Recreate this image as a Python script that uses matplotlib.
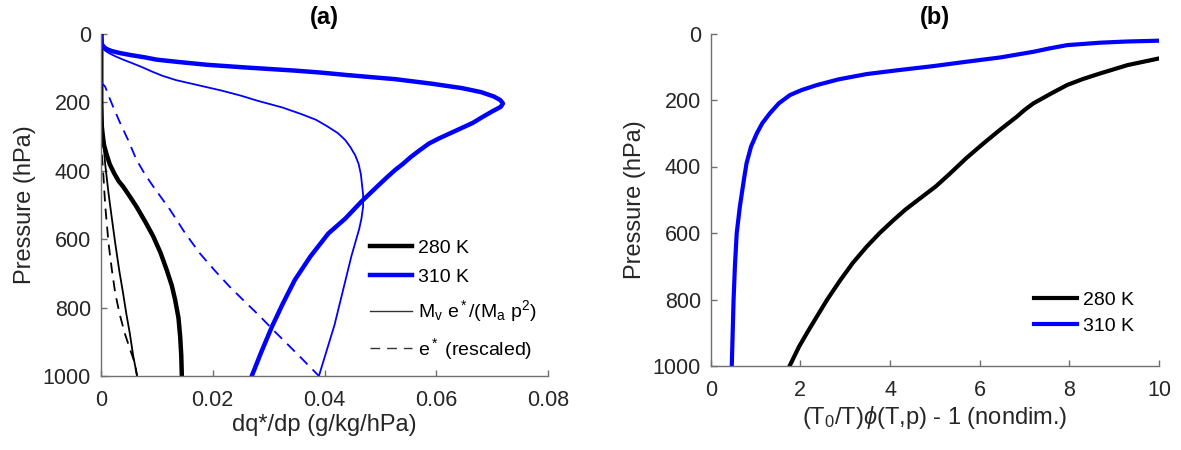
import numpy as np
import matplotlib
matplotlib.use("Agg")
import matplotlib.pyplot as plt

plt.rcParams['font.family'] = ['Liberation Sans', 'DejaVu Sans']
plt.rcParams['mathtext.fontset'] = 'custom'
plt.rcParams['mathtext.rm'] = 'Liberation Sans'
plt.rcParams['mathtext.it'] = 'Liberation Sans:italic'
plt.rcParams['mathtext.default'] = 'regular'

# ---- panel (a): dq*/dp profiles (g/kg/hPa) ----
p_280 = [0, 100, 200, 271, 300, 325, 349, 380, 407, 430, 446, 475, 505, 550, 592, 640,
         690, 735, 777, 830, 884, 940, 1000]
dq_280 = [0.0001, 0.0001, 0.0001, 0.0002, 0.0004, 0.0006, 0.001, 0.0016, 0.0024, 0.0032,
          0.004, 0.0052, 0.0064, 0.008, 0.0094, 0.0107, 0.0118, 0.0127, 0.0133, 0.0139,
          0.0142, 0.0144, 0.0145]

p_310 = [0, 30, 40, 45, 50, 56, 62, 68, 75, 82, 90, 98, 107, 113, 120, 132, 145, 158, 170,
         183, 193, 203, 213, 227, 245, 260, 275, 290, 305, 320, 340, 360, 380, 398, 420,
         440, 465, 490, 540, 583, 650, 719, 790, 856, 930, 1000]
dq_310 = [0.0001, 0.0002, 0.0007, 0.0012, 0.002, 0.0035, 0.0055, 0.0078, 0.010, 0.014,
          0.019, 0.026, 0.0347, 0.0395, 0.044, 0.0526, 0.059, 0.0645, 0.068, 0.0703,
          0.0714, 0.0719, 0.0715, 0.0699, 0.068, 0.0665, 0.0645, 0.0625, 0.0605, 0.0587,
          0.057, 0.0554, 0.054, 0.0526, 0.0511, 0.0498, 0.0482, 0.0466, 0.0437, 0.0407,
          0.0375, 0.0347, 0.0325, 0.0306, 0.0287, 0.027]

p_mv_280 = [0, 150, 250, 320, 380, 466, 540, 612, 690, 758, 820, 875, 940, 1000]
mv_280 = [0.0001, 0.0001, 0.0002, 0.0005, 0.0008, 0.0014, 0.002, 0.0026, 0.0033, 0.004,
          0.0046, 0.0052, 0.0058, 0.0065]

p_mv_310 = [0, 38, 44, 50, 57, 65, 75, 85, 97, 110, 122, 135, 150, 165, 180, 195, 215,
            235, 251, 270, 290, 310, 330, 355, 380, 410, 440, 470, 505, 540, 570, 610,
            650, 750, 850, 925, 1000]
mv_310 = [0.0001, 0.0002, 0.0005, 0.0009, 0.0016, 0.0026, 0.004, 0.0056, 0.0074, 0.0092,
          0.011, 0.0135, 0.0175, 0.0215, 0.025, 0.028, 0.0325, 0.036, 0.0385, 0.0405,
          0.0424, 0.0437, 0.0446, 0.0455, 0.0461, 0.0465, 0.0467, 0.0469, 0.0469, 0.0466,
          0.0462, 0.0455, 0.0448, 0.0433, 0.0418, 0.0404, 0.039]

p_es_280 = [300, 350, 418, 500, 612, 690, 758, 820, 875, 920, 962, 1000]
es_280 = [0.0, 0.0002, 0.0005, 0.0008, 0.0014, 0.002, 0.0026, 0.0034, 0.0043, 0.0052,
          0.0061, 0.0065]

p_es_310 = [140, 154, 180, 220, 261, 310, 368, 410, 446, 480, 514, 580, 641, 690, 738,
            780, 826, 865, 904, 950, 1000]
es_310 = [0.0, 0.0008, 0.0014, 0.0024, 0.0035, 0.0049, 0.0064, 0.0079, 0.0094, 0.0109,
          0.0124, 0.015, 0.0177, 0.0203, 0.023, 0.0256, 0.0285, 0.0308, 0.0332, 0.036,
          0.039]

# ---- panel (b): (T0/T) phi(T,p) - 1 ----
p_b_280 = [75, 95, 120, 137, 155, 180, 210, 230, 250, 290, 330, 375, 421, 460, 501, 530,
           561, 600, 641, 690, 742, 800, 862, 900, 942, 1000]
phi_280 = [10, 9.3, 8.69, 8.3, 7.95, 7.6, 7.2, 7.0, 6.83, 6.45, 6.09, 5.7, 5.34, 5.02,
           4.62, 4.34, 4.08, 3.77, 3.48, 3.17, 2.89, 2.6, 2.32, 2.15, 1.97, 1.76]

p_b_310 = [21.6, 24, 27.6, 35, 45, 55, 63, 72, 85, 98, 110, 122, 138, 155, 170, 185, 210,
           240, 270, 300, 340, 390, 440, 521, 601, 700, 802, 1000]
phi_310 = [10, 9.3, 8.69, 7.95, 7.55, 7.2, 6.85, 6.46, 5.7, 4.97, 4.2, 3.48, 2.85, 2.37,
           2.03, 1.77, 1.52, 1.32, 1.15, 1.03, 0.9, 0.8, 0.74, 0.65, 0.58, 0.54, 0.51,
           0.47]

p_ticks = [0, 200, 400, 600, 800, 1000]
xticks_a = [0, 0.02, 0.04, 0.06, 0.08]
xlabels_a = ['0', '0.02', '0.04', '0.06', '0.08']
xticks_b = [0, 2, 4, 6, 8, 10]

W, H = 1181, 450
fig = plt.figure(figsize=(W / 100, H / 100), dpi=100)
ax1 = fig.add_axes([100.7 / W, 1 - 376 / H, 447.6 / W, 342 / H])
ax2 = fig.add_axes([710.7 / W, 1 - 366 / H, 448.3 / W, 332.5 / H])

blue = (0, 0, 1)
thick, thin = 3.2, 1.3
ax1.plot(dq_280, p_280, color='k', lw=thick, label='280 K')
ax1.plot(dq_310, p_310, color=blue, lw=thick, label='310 K')
ax1.plot(mv_280, p_mv_280, color='k', lw=thin)
ax1.plot(mv_310, p_mv_310, color=blue, lw=thin)
ax1.plot(es_280, p_es_280, color='k', lw=thin, ls=(0, (6, 4)))
ax1.plot(es_310, p_es_310, color=blue, lw=thin, ls=(0, (6, 4)))
# legend-only handles for the thin styles
ax1.plot([], [], color='#333333', lw=1.0, label=r'M$_v$ e$^*$/(M$_a$ p$^2$)')
ax1.plot([], [], color='#333333', lw=1.0, ls=(0, (7, 5)), label=r'e$^*$ (rescaled)')

ax2.plot(phi_280, p_b_280, color='k', lw=3.0, label='280 K')
ax2.plot(phi_310, p_b_310, color=blue, lw=3.0, label='310 K')

for ax in (ax1, ax2):
    ax.set_ylim(1000, 0)
    ax.set_yticks(p_ticks)
    ax.spines['top'].set_visible(False)
    ax.spines['right'].set_visible(False)
    for s in ('left', 'bottom'):
        ax.spines[s].set_color('#707070')
        ax.spines[s].set_linewidth(1.0)
    ax.tick_params(direction='in', length=4, width=1.0, color='#707070',
                   labelcolor='#262626', labelsize=15.5)
    ax.tick_params(axis='x', pad=10)
    ax.tick_params(axis='y', pad=7)
    ax.set_ylabel('Pressure (hPa)', fontsize=17, color='#262626', labelpad=5)

ax1.set_xlim(0, 0.08)
ax1.set_xticks(xticks_a)
ax1.set_xticklabels(xlabels_a)
ax1.set_xlabel('dq*/dp (g/kg/hPa)', fontsize=17, color='#262626', labelpad=2)
ax1.set_title('(a)', fontsize=17, fontweight='bold', pad=7)

ax2.set_xlim(0, 10)
ax2.set_xticks(xticks_b)
ax2.set_xlabel(r'(T$_0$/T)$\mathit{\phi}$(T,p) - 1 (nondim.)', fontsize=17,
               color='#262626', labelpad=2)
ax2.set_title('(b)', fontsize=17, fontweight='bold', pad=7)

ax1.legend(loc='upper left', bbox_to_anchor=(369.6 / W, 1 - 239 / H),
           bbox_transform=fig.transFigure, frameon=False, fontsize=14,
           borderpad=0, borderaxespad=0, handlelength=2.2, handletextpad=0.3,
           labelspacing=0.62)
ax2.legend(loc='upper left', bbox_to_anchor=(1034 / W, 1 - 291 / H),
           bbox_transform=fig.transFigure, frameon=False, fontsize=14,
           borderpad=0, borderaxespad=0, handlelength=2.2, handletextpad=0.3,
           labelspacing=0.45)

fig.savefig('out.png', dpi=100)
